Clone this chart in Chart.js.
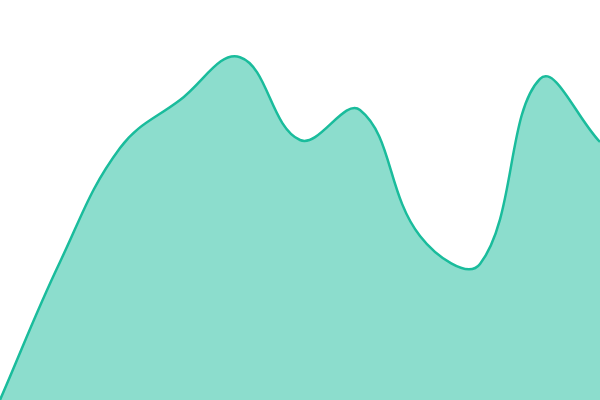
<!DOCTYPE html>
<html>
<head>
<meta charset="utf-8">
<script src="https://cdn.jsdelivr.net/npm/chart.js@4/dist/chart.umd.min.js"></script>
<style>
  html, body { margin: 0; padding: 0; background: #fff; }
  #wrap { width: 600px; height: 400px; }
</style>
</head>
<body>
<div id="wrap"><canvas id="areaChart"></canvas></div>
<script>
// categories and values (0..100 scale)
const labels = ['1', '2', '3', '4', '5', '6', '7', '8', '9', '10', '11'];
const values = [0, 34.5, 63, 75, 85.7, 65, 72.5, 41, 34, 80.3, 64.5];

const lineColor = '#1abc9c';
const fillColor = 'rgba(26, 188, 156, 0.5)';

const config = {
    type: 'line',
    data: {
        labels: labels,
        datasets: [{
            data: values,
            borderColor: lineColor,
            backgroundColor: fillColor,
            borderWidth: 2.5,
            fill: 'origin',
            pointRadius: 0,
            tension: 0.4
        }]
    },
    options: {
        responsive: true,
        maintainAspectRatio: false,
        animation: false,
        layout: { padding: 0 },
        plugins: {
            legend: { display: false },
            tooltip: { enabled: false }
        },
        scales: {
            x: { display: false },
            y: { display: false, min: 0, max: 100 }
        }
    }
};

new Chart(document.getElementById('areaChart'), config);
</script>
</body>
</html>
